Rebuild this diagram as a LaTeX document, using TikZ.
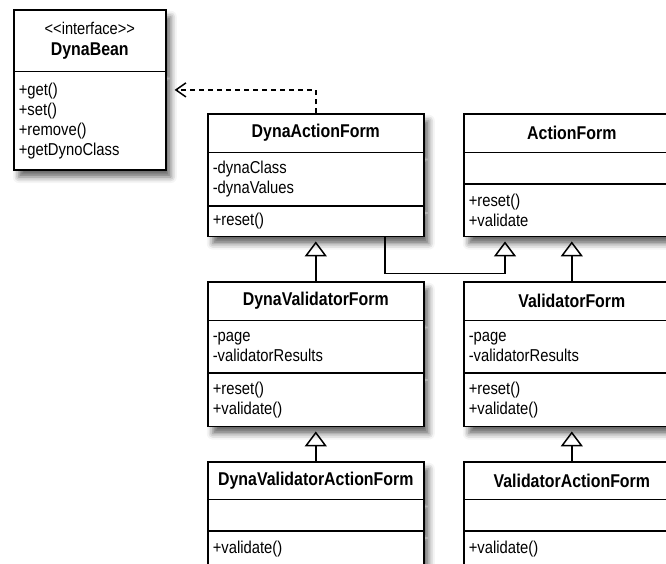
\documentclass[tikz,border=0pt]{standalone}
\usepackage{fontspec}
\setmainfont{Liberation Sans}[FakeStretch=0.86]
\usetikzlibrary{arrows.meta,shapes.multipart,shadows.blur}

\newcommand{\titlepart}[3][216pt]{\parbox[c][#2]{#1}{\centering\fontsize{18.5}{21}\selectfont\bfseries #3}}
\newcommand{\memberpart}[3][216pt]{\parbox[c][#2]{#1}{\raggedright\leftskip=5pt\fontsize{17.2}{20}\selectfont #3}}

\begin{document}
\begin{tikzpicture}[x=1pt,y=1pt,
  umlclass/.style={rectangle split, rectangle split parts=#1, draw, line width=1.6pt,
    fill=white, inner sep=0pt, anchor=north west,
    blur shadow={shadow xshift=5pt,shadow yshift=-7pt,shadow blur radius=6pt,shadow opacity=60}},
  umlclass/.default=3,
  gen/.style={line width=1.5pt, -{Triangle[open,length=15pt,width=22pt]}, shorten >=4pt},
  realize/.style={line width=1.5pt, dash pattern=on 5pt off 4pt,
    -{Straight Barb[length=10pt,width=14pt]}, shorten >=8pt}]
  \useasboundingbox (0,0) rectangle (666,-563);
  \clip (0,0) rectangle (666,-563);

  % interface
  \node[umlclass=2] (db) at (13,-9)
    {\titlepart[152pt]{60pt}{{\mdseries\fontsize{17}{22}\selectfont <{}<interface>{}>}\\DynaBean}
     \nodepart{two}\memberpart[152pt]{97pt}{+get()\\+set()\\+remove()\\+getDynoClass}};

  % top row
  \node[umlclass] (daf) at (207,-113)
    {\titlepart{37pt}{DynaActionForm}
     \nodepart{two}\memberpart{52pt}{-dynaClass\\-dynaValues}
     \nodepart{three}\memberpart{29pt}{+reset()}};
  \node[umlclass] (af) at (463,-113)
    {\titlepart{37pt}{ActionForm}
     \nodepart{two}\memberpart{30pt}{}
     \nodepart{three}\memberpart{51pt}{+reset()\\+validate}};

  % middle row
  \node[umlclass] (dvf) at (207,-281)
    {\titlepart{37pt}{DynaValidatorForm}
     \nodepart{two}\memberpart{51pt}{-page\\-validatorResults}
     \nodepart{three}\memberpart{52pt}{+reset()\\+validate()}};
  \node[umlclass] (vf) at (463,-281)
    {\titlepart{37pt}{ValidatorForm}
     \nodepart{two}\memberpart{51pt}{-page\\-validatorResults}
     \nodepart{three}\memberpart{52pt}{+reset()\\+validate()}};

  % bottom row
  \node[umlclass] (dvaf) at (207,-461)
    {\titlepart{36pt}{DynaValidatorActionForm}
     \nodepart{two}\memberpart{30pt}{}
     \nodepart{three}\memberpart{34pt}{+validate()}};
  \node[umlclass] (vaf) at (463,-461)
    {\titlepart{36pt}{ValidatorActionForm}
     \nodepart{two}\memberpart{30pt}{}
     \nodepart{three}\memberpart{34pt}{+validate()}};

  % relations
  \draw[realize] (daf.north) |- (db.east);
  \draw[gen] ([xshift=178pt]daf.south west) -- ++(0,-36) -| ([xshift=42pt]af.south west);
  \draw[gen] (dvf.north) -- (daf.south);
  \draw[gen] (vf.north) -- (af.south);
  \draw[gen] (dvaf.north) -- (dvf.south);
  \draw[gen] (vaf.north) -- (vf.south);
\end{tikzpicture}
\end{document}
